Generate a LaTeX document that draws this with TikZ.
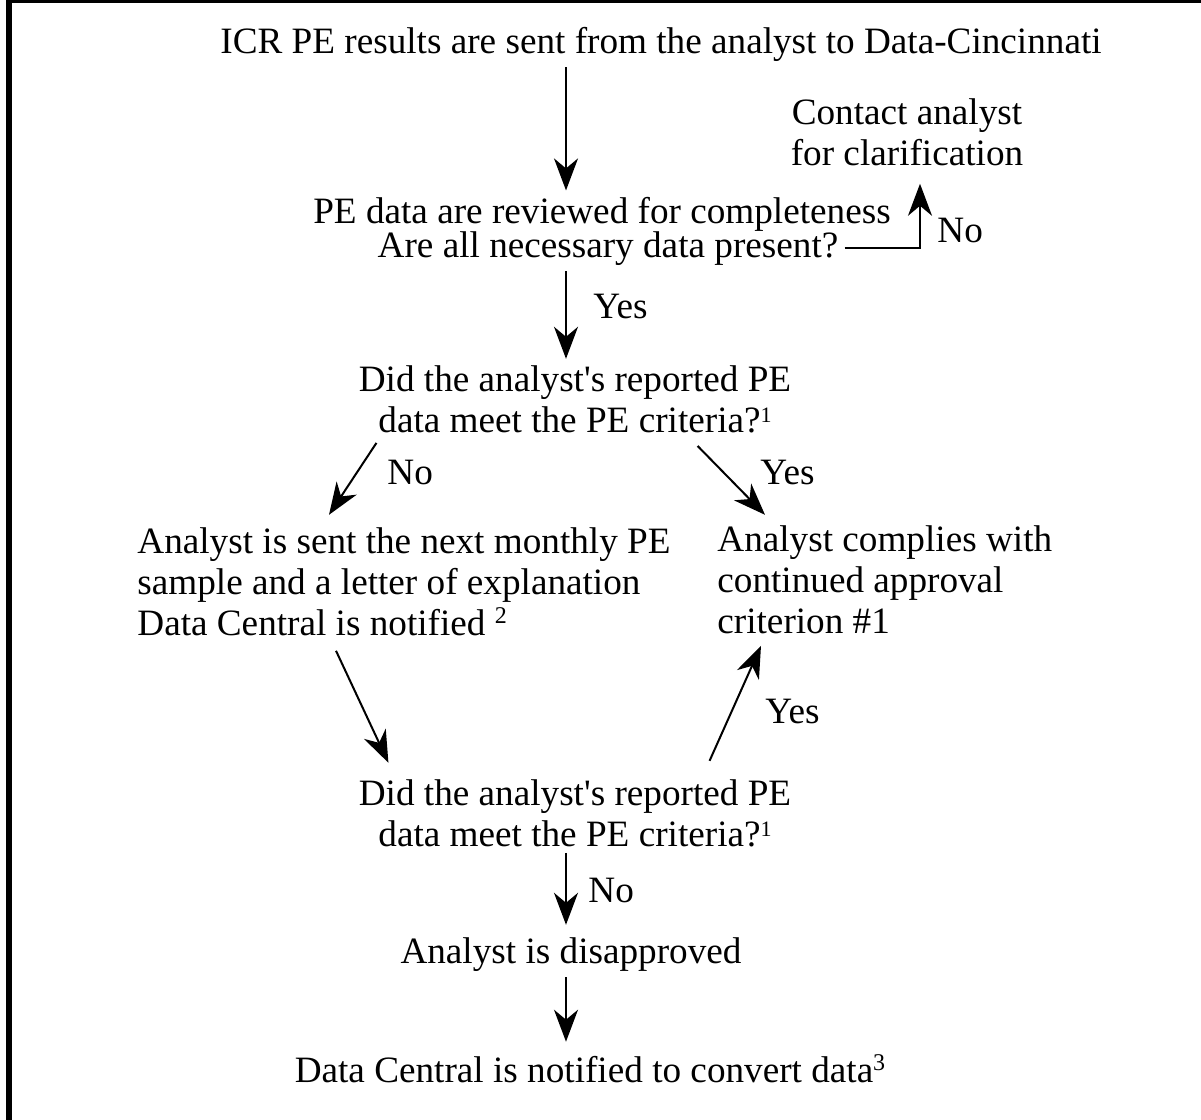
\documentclass[tikz,border=0pt]{standalone}
\usepackage{fontspec}
\setmainfont{Liberation Serif}
\usetikzlibrary{arrows.meta}
\newcommand{\smallsup}[1]{\raisebox{5pt}{\fontsize{11}{11}\selectfont #1}}
\newcommand{\bigsup}[1]{\raisebox{6pt}{\fontsize{12}{12}\selectfont #1}}

\begin{document}
\begin{tikzpicture}[x=0.5pt, y=-0.5pt,
            every node/.style = {inner sep=3pt, font=\fontsize{18.6}{20.5}\selectfont},
            ctext/.style = {align=center, anchor=base},
            ltext/.style = {align=left, anchor=base west},
            answer/.style = {inner sep=0pt, anchor=base west},
            arr/.style = {-{Stealth[length=16pt, width=12pt, inset=5pt]}, line width=1pt}]
        \useasboundingbox (0,0) rectangle (1201,1120);
        \fill (6,0) rectangle (12,1120);
        \fill (6,0) rectangle (1201,3);
        \coordinate (spine) at (566,0);
        \node[ctext] (start) at (661,53) {ICR PE results are sent from the analyst to Data-Cincinnati};
        \node[ctext] (contact) at (907,165) {Contact analyst\\for clarification};
        \node[ctext] (review) at (602,223) {PE data are reviewed for completeness};
        \node[ctext] (check) at (608,257) {Are all necessary data present?};
        \node[ctext] (meet) at (575,432) {Did the analyst\textquotesingle s reported PE\\data meet the PE criteria?\smallsup{1}};
        \node[ltext] (resend) at (131,635) {Analyst is sent the next monthly PE\\sample and a letter of explanation\\Data Central is notified \bigsup{2}};
        \node[ltext] (comply) at (711,633) {Analyst complies with\\continued approval\\criterion \#1};
        \node[ctext] (remeet) at (575,846) {Did the analyst\textquotesingle s reported PE\\data meet the PE criteria?\smallsup{1}};
        \node[ctext] (disapproved) at (571,963) {Analyst is disapproved};
        \node[ctext] (convert) at (590,1082) {Data Central is notified to convert data\bigsup{3}};
        \node[answer] (nocontact) at (937,242) {No};
        \node[answer] (yescheck) at (593,318) {Yes};
        \node[answer] (nomeet) at (387,484) {No};
        \node[answer] (yesmeet) at (760,484) {Yes};
        \node[answer] (yesremeet) at (765,723) {Yes};
        \node[answer] (noremeet) at (588,902) {No};

        \draw[arr] (spine |- start.south) -- (spine |- review.north);
        \draw[arr, shorten >=6pt] (check.east) -| ([xshift=6.5pt]contact.south);
        \draw[arr] (spine |- check.south) -- (spine |- meet.north);
        \draw[arr] ([xshift=12pt, yshift=-2pt]meet.south west) -- ([xshift=99pt, yshift=3pt]resend.north west);
        \draw[arr] ([xshift=-50pt, yshift=-3.5pt]meet.south east) -- ([xshift=27pt, yshift=2pt]comply.north west);
        \draw[arr] ([xshift=102.5pt, yshift=-4.5pt]resend.south west) -- ([xshift=18pt, yshift=5pt]remeet.north west);
        \draw[arr] ([xshift=-44pt, yshift=6pt]remeet.north east) -- ([xshift=25pt, yshift=-3pt]comply.south west);
        \draw[arr, shorten >=3pt] (spine |- remeet.south) -- (spine |- disapproved.north);
        \draw[arr, shorten >=3pt] (spine |- disapproved.south) -- (spine |- convert.north);
\end{tikzpicture}
\end{document}
